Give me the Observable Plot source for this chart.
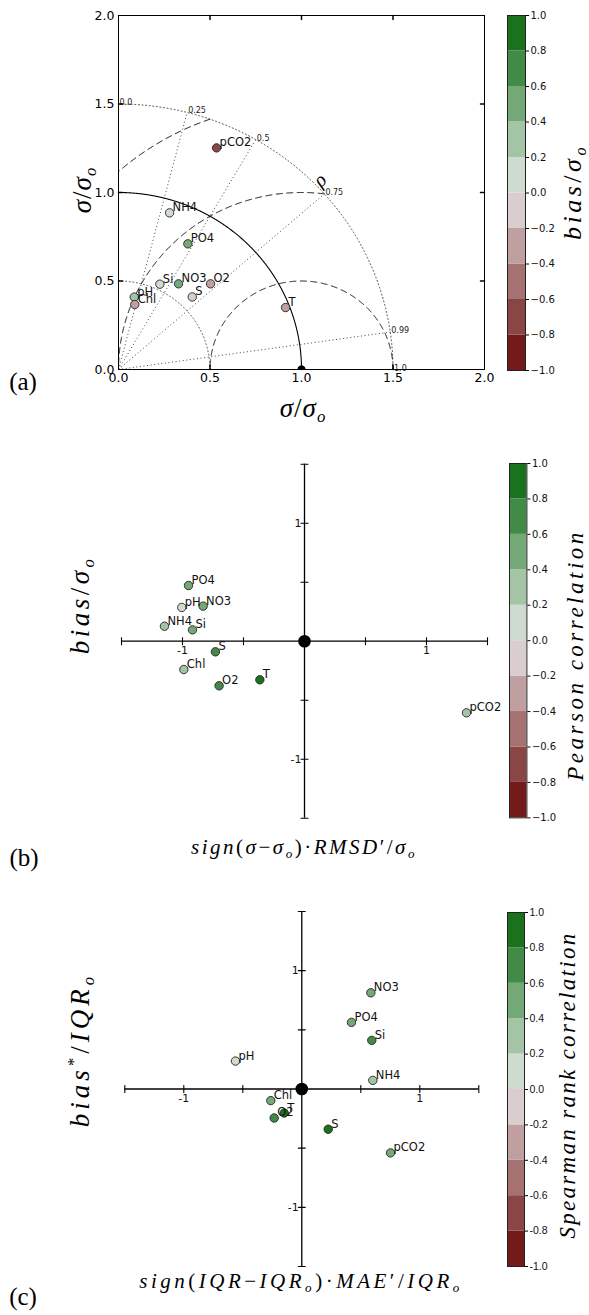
<!DOCTYPE html>
<html><head><meta charset="utf-8">
<script src="https://cdn.jsdelivr.net/npm/d3@7"></script>
<script src="https://cdn.jsdelivr.net/npm/@observablehq/plot@0.6"></script>
<style>
body{margin:0;background:#fff;}
#root{position:relative;width:589px;height:1315px;overflow:hidden;background:#fff;}
#root svg{position:absolute;}
.lab{position:absolute;font-family:"Liberation Serif","DejaVu Serif",serif;color:#000;white-space:nowrap;line-height:1;transform:translate(-50%,-50%);}
.lab.rot{transform:translate(-50%,-50%) rotate(-90deg);}
.lab i{font-style:italic;}
.lab sub{font-size:0.62em;vertical-align:-0.32em;line-height:0;}
.lab sup{font-size:0.62em;vertical-align:0.55em;line-height:0;}
</style></head><body><div id="root"></div>
<script>
// ---------- data ----------
const variables = ["pCO2","NH4","PO4","Si","NO3","O2","S","pH","Chl","T"];
// (a) Taylor diagram, normalised std dev components (sigma/sigma_o)
const taylorX = [0.536,0.279,0.379,0.226,0.328,0.503,0.403,0.086,0.089,0.913];
const taylorY = [1.252,0.885,0.710,0.482,0.484,0.484,0.410,0.409,0.367,0.350];
const taylorBias = [-0.70,0.10,0.50,0.10,0.45,-0.30,-0.15,0.30,-0.30,-0.30];
// (b) target diagram
const targetX = [1.328,-1.148,-0.951,-0.918,-0.831,-0.700,-0.730,-1.006,-0.989,-0.366];
const targetY = [-0.607,0.127,0.472,0.096,0.297,-0.378,-0.090,0.286,-0.240,-0.327];
const pearson = [0.39,0.30,0.47,0.42,0.56,0.72,0.70,0.19,0.24,0.93];
// (c) robust target diagram
const robustX = [0.752,0.602,0.421,0.593,0.585,-0.234,0.224,-0.562,-0.263,-0.149];
const robustY = [-0.540,0.073,0.563,0.411,0.813,-0.245,-0.340,0.236,-0.098,-0.203];
const spearman = [0.45,0.35,0.45,0.65,0.45,0.70,0.90,0.10,0.50,0.85];

// ticks / reference values
const taylorTicks = [0, 0.5, 1, 1.5, 2];
const taylorInnerTicks = [0.5, 1, 1.5];
const stdArcs = [0.5, 1.5];          // dotted
const stdRef = 1;                     // solid
const rmsArcs = [0.5, 1, 1.5];        // dashed, centred on obs
const corrValues = [0, 0.25, 0.5, 0.75, 0.99, 1.0];
const corrLabels = ["0.0","0.25","0.5","0.75","0.99","1.0"];
const rhoLabel = [{x: 1.10, y: 1.07, t: "ρ"}];
const obsPoint = [{x: 1, y: 0}];
const crossTicks = [-1.5, -1, -0.5, 0.5, 1, 1.5];
const crossLabels = [-1, 1];
const cbTicks = [-1,-0.8,-0.6,-0.4,-0.2,0,0.2,0.4,0.6,0.8,1];
const thresholds = [-0.8,-0.6,-0.4,-0.2,0,0.2,0.4,0.6,0.8];
const palette = ["#731a1a","#8a4545","#a57171","#c09fa0","#d9cdce","#cfdbd1","#a3c4a5","#74a977","#428b47","#1b721d"];

// ---------- helpers ----------
const root = document.getElementById("root");
const colorScale = {type: "threshold", domain: thresholds, range: palette};
const baseStyle = {background: "transparent", color: "#000", fontFamily: "DejaVu Sans, sans-serif", overflow: "visible"};
const tickShape = {draw(ctx, l) { ctx.moveTo(0, 0); ctx.lineTo(0, -l); }};
const fmt1 = d3.format(".1f");
function place(el, left, top) { el.style.left = left + "px"; el.style.top = top + "px"; root.appendChild(el); }
function label(html, x, y, size, rot, extra) {
  const d = document.createElement("div");
  d.className = "lab" + (rot ? " rot" : "");
  d.innerHTML = html;
  d.style.left = x + "px"; d.style.top = y + "px"; d.style.fontSize = size + "px";
  if (extra) Object.assign(d.style, extra);
  root.appendChild(d);
}
function arcPoints(cx, r, clipR) {
  const n = 1440;
  return d3.range(n + 1).map(i => {
    const t = i / n * Math.PI;
    return {x: cx + r * Math.cos(t), y: r * Math.sin(t)};
  }).filter(p => p.x >= -1e-9 && (clipR == null || Math.hypot(p.x, p.y) <= clipR + 1e-9));
}
const rows = (xs, ys, cs) => variables.map((v, i) => ({name: v, x: xs[i], y: ys[i], c: cs[i]}));

// ---------- (a) Taylor diagram ----------
const taylorData = rows(taylorX, taylorY, taylorBias);
const corrLines = corrValues.map((c, i) => {
  const th = Math.acos(c), R = stdArcs[stdArcs.length - 1];
  return {x2: R * Math.cos(th), y2: R * Math.sin(th), label: corrLabels[i]};
});
const outerR = stdArcs[stdArcs.length - 1];
const plotA = Plot.plot({
  width: 589, height: 400, marginLeft: 118, marginRight: 105, marginTop: 15, marginBottom: 31,
  x: {domain: [0, 2]}, y: {domain: [0, 2]},
  color: colorScale, style: baseStyle,
  marks: [
    ...stdArcs.map(r => Plot.line(arcPoints(0, r), {x: "x", y: "y", stroke: "#444", strokeWidth: 1, strokeDasharray: "1,2.6"})),
    Plot.link(corrLines, {x1: 0, y1: 0, x2: "x2", y2: "y2", stroke: "#444", strokeWidth: 1, strokeDasharray: "1,2.6"}),
    Plot.line(arcPoints(0, stdRef), {x: "x", y: "y", stroke: "#000", strokeWidth: 1.1}),
    ...rmsArcs.map(r => Plot.line(arcPoints(1, r, outerR), {x: "x", y: "y", stroke: "#000", strokeWidth: 1, strokeDasharray: "6,4.5"})),
    Plot.text(corrLines, {x: "x2", y: "y2", text: "label", textAnchor: "start", lineAnchor: "bottom", dx: 1, dy: 1, fontSize: 8, fill: "#222"}),
    Plot.text(rhoLabel, {x: "x", y: "y", text: "t", fontSize: 20, fontStyle: "italic", fontFamily: "Liberation Serif, serif", rotate: -45}),
    Plot.frame({stroke: "#000", strokeWidth: 1}),
    Plot.vector(taylorInnerTicks, {x: d => d, y: 0, length: 4, rotate: 0, anchor: "start", shape: tickShape}),
    Plot.vector(taylorInnerTicks, {x: d => d, y: 2, length: 4, rotate: 180, anchor: "start", shape: tickShape}),
    Plot.vector(taylorInnerTicks, {x: 0, y: d => d, length: 4, rotate: 90, anchor: "start", shape: tickShape}),
    Plot.vector(taylorInnerTicks, {x: 2, y: d => d, length: 4, rotate: 270, anchor: "start", shape: tickShape}),
    Plot.axisX({ticks: taylorTicks, tickSize: 0, tickPadding: 4, tickFormat: fmt1, fontSize: 12.5, label: null}),
    Plot.axisY({ticks: taylorTicks, tickSize: 0, tickPadding: 4, tickFormat: fmt1, fontSize: 12.5, label: null}),
    Plot.dot(obsPoint, {x: "x", y: "y", r: 4, fill: "#000", clip: true}),
    Plot.dot(taylorData, {x: "x", y: "y", fill: "c", r: 4.2, stroke: "#222", strokeWidth: 0.9}),
    Plot.text(taylorData, {x: "x", y: "y", text: "name", textAnchor: "start", lineAnchor: "bottom", dx: 3, dy: -1.5, fontSize: 11.5, fill: "#111"})
  ]
});
place(plotA, 0, 0);

// ---------- target-style diagrams ----------
function crossPlot(data, top, height, mL, mR, mT, mB) {
  const p = Plot.plot({
    width: 589, height, marginLeft: mL, marginRight: mR, marginTop: mT, marginBottom: mB,
    x: {domain: [-1.5, 1.5], axis: null}, y: {domain: [-1.5, 1.5], axis: null},
    color: colorScale, style: baseStyle,
    marks: [
      Plot.ruleY([0], {stroke: "#000", strokeWidth: 1.3}),
      Plot.ruleX([0], {stroke: "#000", strokeWidth: 1.3}),
      Plot.vector(crossTicks, {x: d => d, y: 0, length: 7, rotate: 0, anchor: "middle", shape: tickShape, strokeWidth: 1.1}),
      Plot.vector(crossTicks, {x: 0, y: d => d, length: 7, rotate: 90, anchor: "middle", shape: tickShape, strokeWidth: 1.1}),
      Plot.text(crossLabels, {x: d => d, y: 0, text: d => String(d), dy: 9, fontSize: 11, fill: "#111"}),
      Plot.text(crossLabels, {x: 0, y: d => d, text: d => String(d), textAnchor: "end", dx: -3, fontSize: 11, fill: "#111"}),
      Plot.dot(data, {x: "x", y: "y", fill: "c", r: 4.2, stroke: "#222", strokeWidth: 0.9}),
      Plot.text(data, {x: "x", y: "y", text: "name", textAnchor: "start", lineAnchor: "bottom", dx: 3, dy: -1.5, fontSize: 11.5, fill: "#111"}),
      Plot.dot([0], {x: 0, y: 0, r: 6.3, fill: "#000"})
    ]
  });
  place(p, 0, top);
}
crossPlot(rows(targetX, targetY, pearson), 420, 440, 121, 102, 43.7, 42.3);
crossPlot(rows(robustX, robustY, spearman), 870, 440, 124.3, 110.7, 41, 44);

// ---------- colour bars ----------
const bins = cbTicks.slice(0, -1).map((lo, i) => ({lo, hi: cbTicks[i + 1], mid: (lo + cbTicks[i + 1]) / 2}));
function colorbar(left, top, bottom, barW, fmt, font, fs) {
  const pad = 10;
  const p = Plot.plot({
    width: barW + 50, height: bottom - top + 2 * pad,
    marginLeft: 0, marginRight: 50, marginTop: pad, marginBottom: pad,
    x: {domain: [0, 1], axis: null}, y: {domain: [-1, 1]},
    color: colorScale, style: {...baseStyle, fontFamily: font},
    marks: [
      Plot.rect(bins, {x1: 0, x2: 1, y1: "lo", y2: "hi", fill: "mid"}),
      Plot.frame({stroke: "#222", strokeWidth: 1}),
      Plot.axisY({anchor: "right", ticks: cbTicks, tickSize: 3, tickPadding: 2, tickFormat: fmt, fontSize: fs, label: null, fill: "#111"})
    ]
  });
  place(p, left, top - pad);
}
colorbar(507, 15, 370, 18, fmt1, "DejaVu Sans, sans-serif", 10);
colorbar(509.3, 463.3, 817.7, 17.4, fmt1, "DejaVu Sans, sans-serif", 10);
colorbar(507.3, 911.7, 1265.7, 17, d => d.toFixed(1), "Liberation Sans, sans-serif", 10.5);

// ---------- text labels ----------
const sOo = '<i>σ</i><sub><i>o</i></sub>';
label(`<i>σ</i>/${sOo}`, 303, 408, 27, false, {letterSpacing: "1px"});
label(`<i>σ</i>/${sOo}`, 82, 190, 27, true, {letterSpacing: "1px"});
label(`<i>bias</i>/${sOo}`, 573, 192, 26, true, {letterSpacing: "3.5px"});
label('(a)', 23, 381, 25, false);

label(`<i>bias</i>/${sOo}`, 80, 605, 27, true, {letterSpacing: "3.5px"});
label(`<i>sign</i>(<i>σ</i>−${sOo})·<i>RMSD</i>′/${sOo}`, 304, 847, 21, false, {letterSpacing: "2.5px"});
label('<i>Pearson correlation</i>', 575, 655, 23, true, {letterSpacing: "3.5px"});
label('(b)', 24, 857, 25, false);

const iqrO = '<i>IQR</i><sub><i>o</i></sub>';
label(`<i>bias</i><sup>*</sup>/${iqrO}`, 80, 1050, 27, true, {letterSpacing: "4px"});
label(`<i>sign</i>(<i>IQR</i>−${iqrO})·<i>MAE</i>′/${iqrO}`, 301, 1281, 21, false, {letterSpacing: "3.5px"});
label('<i>Spearman rank correlation</i>', 567, 1085, 23, true, {letterSpacing: "2.3px"});
label('(c)', 23, 1296, 25, false);
</script></body></html>
